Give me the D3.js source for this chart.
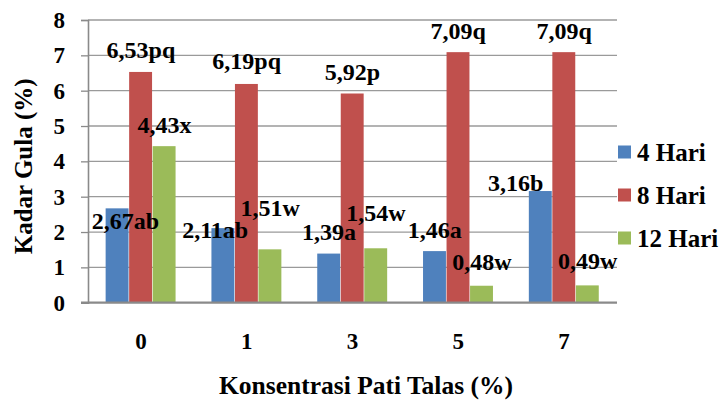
<!DOCTYPE html>
<html>
<head>
<meta charset="utf-8">
<script src="https://cdn.jsdelivr.net/npm/d3@7"></script>
<style>
  html, body { margin: 0; padding: 0; background: #fff; }
  svg { display: block; }
</style>
</head>
<body>
<svg id="chart" width="726" height="400"></svg>
<script>
// Kadar gula (%) per konsentrasi pati talas dan lama penyimpanan
const categories = ["0", "1", "3", "5", "7"];
const seriesNames = ["4 Hari", "8 Hari", "12 Hari"];
const hari4 = [2.67, 2.11, 1.39, 1.46, 3.16];
const hari8 = [6.53, 6.19, 5.92, 7.09, 7.09];
const hari12 = [4.43, 1.51, 1.54, 0.48, 0.49];
const notasi4 = ["ab", "ab", "a", "a", "b"];
const notasi8 = ["pq", "pq", "p", "q", "q"];
const notasi12 = ["x", "w", "w", "w", "w"];
const yTicks = [0, 1, 2, 3, 4, 5, 6, 7, 8];

const colors = ["#4F81BD", "#C0504D", "#9BBB59"];
const FONT = "Liberation Serif";

// label placement relative to bar centre / top (px)
const labelShift = {
  "4 Hari":  [[8, 13], [-8, 2], [0, -22], [0, -21], [-25, -8]],
  "8 Hari":  [[0, -22], [0, -23], [0, -22], [0, -21], [0, -21]],
  "12 Hari": [[0, -21], [0, -41], [0, -35], [0, -24], [0, -24]]
};

const seriesValues = [hari4, hari8, hari12];
const seriesNotes = [notasi4, notasi8, notasi12];
const series = seriesNames.map((name, i) => ({
  name,
  color: colors[i],
  values: categories.map((c, j) => ({ cat: c, value: seriesValues[i][j], note: seriesNotes[i][j], idx: j }))
}));

const svg = d3.select("#chart");
const plot = { left: 88, right: 617, top: 20, bottom: 302.7 };

function serif(sel, size) {
  return sel.style("font-family", FONT).style("font-weight", "bold")
    .style("font-size", size + "px").style("fill", "#000");
}

const x = d3.scaleBand()
  .domain(categories)
  .range([plot.left, plot.right])
  .paddingInner(1 / 3)
  .paddingOuter(1 / 6);

const xs = d3.scaleBand()
  .domain(seriesNames)
  .range([0, x.bandwidth()])
  .padding(0);

const y = d3.scaleLinear().domain([0, 8]).range([plot.bottom, plot.top]);

// horizontal gridlines
svg.append("g")
  .selectAll("line")
  .data(yTicks.filter(t => t > 0))
  .join("line")
  .attr("x1", plot.left)
  .attr("x2", plot.right)
  .attr("y1", d => y(d))
  .attr("y2", d => y(d))
  .attr("stroke", "#9a9a9a")
  .attr("stroke-width", 1.3);

// y axis
const yAxis = svg.append("g")
  .attr("transform", `translate(${plot.left},0)`)
  .call(d3.axisLeft(y).tickValues(yTicks).tickSize(7).tickPadding(16).tickFormat(d3.format("d")));
yAxis.select(".domain").attr("stroke", "#8a8a8a").attr("stroke-width", 1.6);
yAxis.selectAll(".tick line").attr("stroke", "#8a8a8a").attr("stroke-width", 1.3);
serif(yAxis.selectAll(".tick text"), 23);

// bars
const groups = svg.append("g")
  .selectAll("g")
  .data(series)
  .join("g")
  .attr("fill", d => d.color);

groups.selectAll("rect")
  .data(d => d.values.map(v => ({ ...v, name: d.name })))
  .join("rect")
  .attr("x", d => x(d.cat) + xs(d.name))
  .attr("y", d => y(d.value))
  .attr("width", xs.bandwidth() - 0.6)
  .attr("height", d => y(0) - y(d.value));

// x axis
const xAxis = svg.append("g")
  .attr("transform", `translate(0,${plot.bottom})`)
  .call(d3.axisBottom(x).tickSize(0).tickPadding(30));
xAxis.select(".domain").attr("stroke", "#8a8a8a").attr("stroke-width", 2.2)
  .attr("d", `M${plot.left - 7},0H${plot.right}`);
serif(xAxis.selectAll(".tick text"), 23);

// value labels
const fmt = v => v.toFixed(2).replace(".", ",");
series.forEach(s => {
  serif(svg.append("g")
    .selectAll("text")
    .data(s.values)
    .join("text")
    .attr("text-anchor", "middle")
    .attr("x", d => x(d.cat) + xs(s.name) + xs.bandwidth() / 2 + labelShift[s.name][d.idx][0])
    .attr("y", d => y(d.value) + labelShift[s.name][d.idx][1] + 8)
    .text(d => fmt(d.value) + d.note), 24);
});

// axis titles
serif(svg.append("text")
  .attr("transform", `translate(32,${(plot.top + plot.bottom) / 2 + 5}) rotate(-90)`)
  .attr("text-anchor", "middle")
  .text("Kadar Gula (%)"), 25);

serif(svg.append("text")
  .attr("x", 366)
  .attr("y", 394)
  .attr("text-anchor", "middle")
  .text("Konsentrasi Pati Talas (%)"), 25.5);

// legend
const legend = svg.append("g")
  .selectAll("g")
  .data(series)
  .join("g")
  .attr("transform", (d, i) => `translate(618,${152 + i * 43})`);
legend.append("rect")
  .attr("x", 0).attr("y", -6.5)
  .attr("width", 13).attr("height", 13)
  .attr("fill", d => d.color);
serif(legend.append("text")
  .attr("x", 19)
  .attr("y", 8.5)
  .text(d => d.name), 25);
</script>
</body>
</html>
